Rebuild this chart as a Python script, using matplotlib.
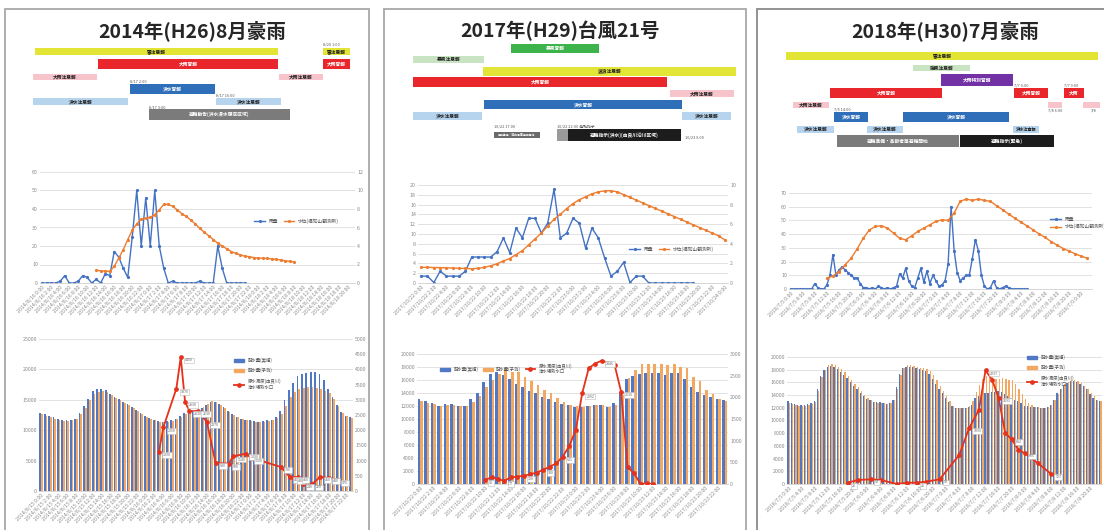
import numpy as np
import pandas as pd
import matplotlib
matplotlib.use("Agg")
import matplotlib.pyplot as plt
import matplotlib.patches as mpatches
from matplotlib.lines import Line2D
from matplotlib.colors import to_rgb

plt.rcParams['font.family'] = ['Noto Sans CJK JP', 'DejaVu Sans']

# ------------------------------------------------------------------ data
titles = ['2014年(H26)8月豪雨', '2017年(H29)台風21号', '2018年(H30)7月豪雨']

# ---- Gantt (warnings / advisories), x in % of the period
g1_row = [0, 0, 1, 1, 2, 2, 3, 4, 4, 5]
g1_start = [1.5, 90.2, 20.9, 90.2, 0.9, 76.6, 30.8, 0.9, 57.2, 36.6]
g1_end = [76.3, 98.5, 76.3, 98.5, 20.6, 90.2, 56.9, 30.2, 77.2, 80.0]
g1_label = ['雷注意報', '雷注意報', '大雨警報', '大雨警報', '大雨注意報', '大雨注意報',
            '洪水警報', '洪水注意報', '洪水注意報', '避難勧告(洪水浸水想定区域)']
g1_note_row = [-0.55, 2.4, 3.45, 4.4]
g1_note_x = [90.2, 30.8, 57.2, 36.6]
g1_note = ['8/20 1:00', '8/17 2:00', '8/17 16:00', '8/17 3:00']

g2_row = [0, 1, 2, 3, 4, 5, 6, 6, 7.7, 7.7, 7.7]
g2_start = [31.6, 2.4, 23.3, 2.4, 79.1, 23.6, 2.4, 82.7, 26.6, 45.4, 48.7]
g2_end = [57.9, 23.6, 98.8, 78.2, 98.2, 82.7, 23.0, 97.3, 40.3, 48.7, 82.4]
g2_label = ['暴風警報', '暴風注意報', '波浪注意報', '大雨警報', '大雨注意報', '洪水警報',
            '洪水注意報', '洪水注意報', '避難準備・高齢者等避難開始', '',
            '避難指示(洪水)(由良川沿川区域)']
g2_note_row = [6.95, 6.95, 7.9]
g2_note_x = [26.6, 45.4, 83.5]
g2_note = ['10/22 17:00', '10/22 22:00 避難指示', '10/23 9:00']

g3_row = [0, 1, 2, 3, 3, 3, 4, 4, 4, 5, 5, 6, 6, 6, 7, 7]
g3_start = [1.9, 41.0, 49.7, 15.4, 72.2, 87.7, 4.0, 82.7, 93.5, 16.7, 38.0, 5.2, 26.9, 71.9, 17.6, 55.6]
g3_end = [98.1, 58.6, 71.9, 50.0, 82.7, 93.8, 15.1, 87.0, 98.8, 27.2, 70.7, 16.7, 38.0, 79.9, 55.2, 84.6]
g3_label = ['雷注意報', '強風注意報', '大雨特別警報', '大雨警報', '大雨警報', '大雨', '大雨注意報',
            '', '', '洪水警報', '洪水警報', '洪水注意報', '洪水注意報', '洪水注意報',
            '避難準備・高齢者等避難開始', '避難指示(緊急)']
g3_note_row = [4.4, 2.4, 2.4, 4.45, 4.45]
g3_note_x = [16.7, 72.2, 87.7, 82.7, 96.0]
g3_note = ['7/5 14:00', '7/7 0:00', '7/7 9:00', '7/8 6:00', '7/8']

# ---- rainfall (mm) and river level (m)
p1_rain = [0, 0, 0, 0, 1, 4, 0, 0, 1, 4, 3, 0, 2, 0, 5, 4, 17, 14, 8, 3, 25, 50, 20, 46, 20, 50,
           20, 8, 0, 1, 0, 0, 0, 0, 0, 1, 0, 0, 0, 20, 8, 0, 0, 0, 0, 0]
p1_level_idx = list(range(12, 57))
p1_level = [1.4, 1.3, 1.3, 1.25, 1.8, 2.7, 3.6, 4.7, 5.7, 6.4, 6.9, 7.0, 7.1, 7.4, 7.9, 8.5, 8.5,
            8.3, 7.9, 7.5, 7.2, 6.8, 6.4, 5.9, 5.5, 5.1, 4.7, 4.3, 4.0, 3.7, 3.4, 3.2, 3.05, 2.9,
            2.85, 2.75, 2.7, 2.68, 2.65, 2.6, 2.55, 2.5, 2.4, 2.35, 2.25]

p2_rain = [1.4, 1.4, 0.1, 2.4, 1.4, 1.4, 1.4, 2.4, 5.3, 5.3, 5.3, 5.3, 6.4, 9.2, 6.2, 11.2, 9.2,
           13.2, 13.2, 10.2, 12.2, 19.1, 9.2, 10.2, 13.2, 12.2, 7.1, 11.2, 9.2, 5.1, 1.4, 2.4,
           4.2, 0.1, 1.4, 1.4, 0, 0, 0, 0, 0, 0, 0, 0]
p2_level_idx = list(range(0, 49))
p2_level = [1.6, 1.6, 1.58, 1.57, 1.55, 1.53, 1.5, 1.48, 1.46, 1.5, 1.6, 1.75, 1.97, 2.25, 2.5,
            2.9, 3.3, 3.9, 4.5, 5.1, 5.8, 6.5, 7.0, 7.6, 8.1, 8.5, 8.8, 9.1, 9.3, 9.4, 9.42, 9.3,
            9.02, 8.74, 8.46, 8.18, 7.9, 7.62, 7.34, 7.06, 6.78, 6.5, 6.22, 5.94, 5.66, 5.38,
            5.1, 4.82, 4.4]

p3_rain = [0, 0, 0, 0, 0, 0, 0, 0, 4, 1, 0, 0, 3, 10, 25, 10, 14, 16, 14, 12, 10, 8, 8, 4, 1, 1,
           0, 1, 0, 2, 1, 0, 1, 0, 1, 2, 11, 8, 15, 6, 2, 1, 8, 15, 5, 13, 4, 10, 6, 2, 3, 6, 18,
           60, 28, 12, 6, 8, 10, 10, 22, 36, 28, 10, 2, 0, 1, 6, 1, 0, 1, 2, 1, 0, 0, 0, 0, 0, 0]
p3_level_idx = list(range(12, 100, 2))
p3_level = [7.8, 9.5, 12.7, 17.6, 22.4, 29.3, 37, 43, 45.6, 46.1, 44.4, 40.7, 37, 35.9, 38.8, 42,
            44.4, 46.8, 49.3, 50.5, 50, 55.4, 63.9, 65.6, 64.6, 65.6, 64.6, 63.9, 60.7, 57.8,
            54.6, 51.7, 48.8, 46.1, 43.2, 40.2, 37.6, 34.6, 32, 29.5, 27.6, 25.6, 23.9, 22.4]

# ---- distribution volume (actual / forecast) and raw-water turbidity
p1_actual = [12900, 12600, 12400, 12100, 11800, 11600, 11650, 11700, 11900, 12800,
             13900, 15200, 16400, 16700, 16700, 16600, 16000, 15500, 15100, 14700,
             14300, 13800, 13300, 12800, 12300, 12000, 11700, 11500, 11400, 11500,
             11700, 11900, 12400, 12900, 13100, 13200, 13400, 13700, 14100, 14600,
             14700, 14300, 13800, 13200, 12700, 12200, 11900, 11700, 11600, 11500,
             11400, 11500, 11600, 11700, 12200, 13100, 14900, 16600, 17800, 18900,
             19300, 19400, 19500, 19500, 19300, 18300, 16700, 15400, 14200, 13000,
             12400, 12100]
p1_forecast = [12600, 12300, 12100, 11800, 11600, 11500, 11500, 11600, 11800, 12600,
               13700, 15000, 16000, 16300, 16400, 16300, 15800, 15300, 14900, 14500,
               14100, 13600, 13100, 12600, 12100, 11800, 11600, 11400, 11300, 11400,
               11500, 11800, 12200, 12700, 13000, 13100, 13300, 13800, 14300, 14800,
               14700, 14200, 13600, 13000, 12500, 12100, 11800, 11600, 11500, 11400,
               11300, 11400, 11500, 11600, 12000, 12600, 14000, 15400, 16300, 16800,
               17000, 17100, 17100, 17000, 16700, 16400, 16200, 15200, 14000, 12900,
               12300, 12000]
p1_turb_idx = [27, 28, 31, 32, 33, 34, 36, 38, 40, 43, 44, 47, 48, 55, 57, 58, 59, 60, 62, 64, 66, 68]
p1_turb = [1290, 2090, 3370, 4400, 2930, 2630, 2630, 2270, 920, 900, 1140, 1230, 1100, 790,
           460, 430, 460, 240, 220, 460, 430, 370]

p2_actual = [13020, 12770, 12510, 12000, 12260, 12260, 12000, 12000, 13020, 14050,
             15740, 16870, 17180, 16770, 16100, 15330, 14870, 14360, 13950, 13330,
             13020, 12620, 12360, 12150, 11900, 11900, 12050, 12150, 12200, 11900,
             12510, 14200, 16100, 16600, 16900, 17030, 17030, 17130, 16770, 17030,
             17030, 16100, 14970, 14200, 13690, 13330, 13020, 12920]
p2_forecast = [12700, 12400, 12300, 12000, 12200, 12200, 12000, 12000, 12600, 13500,
               15000, 16000, 16900, 17700, 17300, 17200, 16400, 15800, 15300, 14500,
               14000, 13300, 12600, 12200, 12000, 11900, 12000, 12100, 12200, 11900,
               12200, 13700, 16300, 17500, 18400, 18500, 18400, 18400, 18300, 18400,
               18000, 17900, 16400, 15800, 14500, 13800, 13100, 12800]
p2_turb_idx = list(range(10, 37))
p2_turb = [92, 154, 108, 77, 154, 170, 190, 230, 262, 330, 400, 477, 631, 877, 1246, 2092,
           2670, 2780, 2846, 2800, 2746, 2130, 400, 246, 0, 15, 0]

p3_actual = [13000, 12800, 12650, 12500, 12450, 12500, 12580, 12800, 13100, 15000,
             17000, 18000, 18500, 18600, 18400, 18100, 17700, 17200, 16700, 16100,
             15500, 14900, 14300, 13800, 13400, 13150, 12900, 12850, 12850, 12750,
             12650, 12700, 13300, 15300, 17300, 18200, 18500, 18500, 18450, 18300,
             18150, 18000, 17800, 17300, 16500, 15800, 15000, 14300, 13600, 12900,
             12250, 12000, 11950, 11950, 11950, 12100, 12500, 13500, 13900, 14200,
             14300, 14400, 14450, 14550, 14600, 14450, 14200, 13900, 13500, 13200,
             13000, 12700, 12350, 12250, 12200, 12100, 12050, 11950, 11950, 12100,
             12450, 13300, 14300, 15000, 15600, 15900, 16150, 16200, 16100, 15800,
             15400, 14900, 14100, 13600, 13200, 13000]
p3_forecast = [12800, 12600, 12450, 12300, 12250, 12300, 12400, 12600, 12900, 14600,
               16800, 18000, 18700, 18900, 18800, 18500, 18100, 17600, 17000, 16400,
               15800, 15200, 14600, 14000, 13500, 13200, 12900, 12800, 12800, 12700,
               12600, 12700, 13200, 15000, 17200, 18300, 18700, 18700, 18600, 18400,
               18300, 18200, 18100, 17800, 17200, 16400, 15400, 14600, 13800, 13000,
               12300, 12000, 11950, 11950, 12000, 12300, 13000, 14500, 15600, 16600,
               17000, 16900, 16800, 16600, 16500, 16700, 16600, 16400, 16300, 15800,
               15000, 14200, 13400, 12800, 12400, 12200, 12050, 11950, 11950, 12050,
               12400, 13200, 14200, 15000, 15700, 16100, 16300, 16350, 16200, 15900,
               15500, 15000, 14300, 13800, 13300, 13000]
p3_turb_idx = [18, 21, 25, 28, 33, 36, 39, 42, 46, 52, 55, 58, 60, 62, 64, 66, 68, 70, 72, 76, 80]
p3_turb = [26, 79, 92, 79, 0, 26, 26, 46, 92, 572, 1099, 1461, 2237, 2053, 1691, 1000, 882,
           671, 605, 408, 197]

series_names = ['雨量', '水位(福知山観測所)']
bar_names = ['配水量(実績)', '配水量(予測)', '原水濁度(由良川)\n浄水場取水口']


def date_labels(start, n):
    return [f"{d.year}/{d.month}/{d.day} {d.hour}:{d.minute:02d}"
            for d in pd.date_range(start, periods=n, freq='h')]


p1_mid_cats = date_labels('2014-08-16 00:00', 70)
p1_bot_cats = date_labels('2014-08-15 00:00', 72)
p2_mid_cats = date_labels('2017-10-22 00:00', 49)
p2_bot_cats = date_labels('2017-10-22 00:00', 48)
p3_mid_cats = date_labels('2018-07-05 00:00', 100)
p3_bot_cats = date_labels('2018-07-05 00:00', 96)

# ------------------------------------------------------------------ styles
C_YEL, C_RED, C_PINK = '#e3e536', '#e8262b', '#f7c4cb'
C_BLU, C_LBLU, C_GRY, C_BLK = '#2f6eb9', '#b6d4ee', '#7b7b7b', '#1c1c1c'
C_GRN, C_LGRN, C_PUR, C_GRY2 = '#3cb44b', '#c8e4c2', '#7232a6', '#9a9a9a'
g1_color = [C_YEL, C_YEL, C_RED, C_RED, C_PINK, C_PINK, C_BLU, C_LBLU, C_LBLU, C_GRY]
g1_h = [0.55, 0.55, 0.8, 0.8, 0.48, 0.48, 0.8, 0.55, 0.55, 0.87]
g2_color = [C_GRN, C_LGRN, C_YEL, C_RED, C_PINK, C_BLU, C_LBLU, C_LBLU, '#6a6a6a', C_GRY2, C_BLK]
g2_h = [0.8, 0.62, 0.8, 0.88, 0.62, 0.8, 0.7, 0.7, 0.53, 1.06, 1.06]
g3_color = [C_YEL, C_LGRN, C_PUR, C_RED, C_RED, C_RED, C_PINK, C_PINK, C_PINK, C_BLU, C_BLU,
            C_LBLU, C_LBLU, C_LBLU, C_GRY, C_BLK]
g3_h = [0.66, 0.49, 0.98, 0.82, 0.82, 0.82, 0.49, 0.49, 0.49, 0.82, 0.82, 0.57, 0.57, 0.57, 0.98, 0.98]

XL_BLUE, XL_ORANGE, RED = '#4472c4', '#ed7d31', '#e5321c'
BAR_BLUE, BAR_ORANGE = '#5078c4', '#f3a862'
TICK_C = '#8a8a8a'

W, H = 1104, 530
fig = plt.figure(figsize=(W / 100, H / 100), dpi=100)
fig.patch.set_facecolor('white')


def px_axes(x0, y0, x1, y1):
    return fig.add_axes([x0 / W, 1 - y1 / H, (x1 - x0) / W, (y1 - y0) / H])


# panel frames
for (x0, x1, ec) in [(5, 369, '#a8a8a8'), (384, 746, '#a8a8a8'), (757, 1120, '#8a8a8a')]:
    fig.add_artist(mpatches.Rectangle((x0 / W, -0.05), (x1 - x0) / W, 1 - 9 / H + 0.05,
                                      transform=fig.transFigure, fill=False, ec=ec, lw=1.3))

for t, cx in zip(titles, [192, 560, 945]):
    fig.text(cx / W, 1 - 31 / H, t, ha='center', va='center', fontsize=14,
             fontweight='bold', color='#262626')


def txt_color(c):
    r, g, b = to_rgb(c)
    return 'white' if 0.299 * r + 0.587 * g + 0.114 * b < 0.55 else '#222222'


def gantt(box, ylim, rows, starts, ends, colors, heights, labels, nrow, nx, notes):
    ax = px_axes(*box)
    wpx = box[2] - box[0]
    s = np.array(starts)
    e = np.array(ends)
    ax.barh(rows, e - s, left=s, height=heights, color=colors, lw=0)
    for r, a, b, c, l in zip(rows, s, e, colors, labels):
        if not l:
            continue
        width_px = (b - a) / 100 * wpx
        fs = min(3.4, 0.8 * width_px / (1.39 * len(l)))
        ax.text((a + b) / 2, r, l, ha='center', va='center', fontsize=fs,
                color=txt_color(c), fontweight='bold')
    for r, x, t in zip(nrow, nx, notes):
        ax.text(x, r, t, ha='left', va='center', fontsize=2.8, color='#555555')
    ax.set_xlim(0, 100)
    ax.set_ylim(*ylim)
    ax.axis('off')


gantt((30, 44, 355, 122), (5.59, -0.6), g1_row, g1_start, g1_end, g1_color, g1_h, g1_label,
      g1_note_row, g1_note_x, g1_note)
gantt((405, 43, 740, 143), (8.37, -0.49), g2_row, g2_start, g2_end, g2_color, g2_h, g2_label,
      g2_note_row, g2_note_x, g2_note)
gantt((780, 50, 1104, 148), (7.54, -0.49), g3_row, g3_start, g3_end, g3_color, g3_h, g3_label,
      g3_note_row, g3_note_x, g3_note)


def base_style(ax):
    for s in ['top', 'right', 'left']:
        ax.spines[s].set_visible(False)
    ax.spines['bottom'].set_color('#d0d0d0')
    ax.spines['bottom'].set_linewidth(0.6)
    ax.tick_params(length=0, labelsize=3.8, colors=TICK_C, pad=1.5)
    ax.yaxis.grid(True, color='#dddddd', lw=0.6)
    ax.set_axisbelow(True)


def twin_style(ax):
    for s in ax.spines.values():
        s.set_visible(False)
    ax.tick_params(length=0, labelsize=3.8, colors=TICK_C, pad=1.5)


def set_cats(ax, cats, step):
    n = len(cats)
    ax.set_xlim(-0.5, n - 0.5)
    ax.set_xticks(range(0, n, step))
    ax.set_xticklabels(cats[::step], rotation=45, ha='right', rotation_mode='anchor',
                       fontsize=3.8, color=TICK_C)


def line_chart(box, cats, step, rain, level_idx, level, ylim_l, st_l, ylim_r, st_r,
               leg_xy, leg_ncol, twin=True):
    ax = px_axes(*box)
    base_style(ax)
    set_cats(ax, cats, step)
    ax.set_ylim(*ylim_l)
    ax.set_yticks(np.arange(ylim_l[0], ylim_l[1] + st_l / 2, st_l))
    h1, = ax.plot(range(len(rain)), rain, color=XL_BLUE, lw=1.0, marker='o', ms=1.3)
    if twin:
        ax2 = ax.twinx()
        twin_style(ax2)
        ax2.set_ylim(*ylim_r)
        ax2.set_yticks(np.arange(ylim_r[0], ylim_r[1] + st_r / 2, st_r))
    else:
        ax2 = ax
    h2, = ax2.plot(level_idx, level, color=XL_ORANGE, lw=1.0, marker='o', ms=1.3)
    ax.legend([h1, h2], series_names, loc='center left',
              bbox_to_anchor=(leg_xy[0] / W, 1 - leg_xy[1] / H),
              bbox_transform=fig.transFigure, ncol=leg_ncol, fontsize=3.4, frameon=False,
              handlelength=2.2, columnspacing=1.2, labelcolor='#555555', borderpad=0)


line_chart((40, 172, 355, 283), p1_mid_cats, 2, p1_rain, p1_level_idx, p1_level,
           (0, 60), 10, (0, 12), 2, (252, 221), 2)
line_chart((418, 185, 728, 283), p2_mid_cats, 2, p2_rain, p2_level_idx, p2_level,
           (0, 20), 2, (0, 10), 2, (627, 249), 2)
line_chart((789, 193, 1092, 289), p3_mid_cats, 4, p3_rain, p3_level_idx, p3_level,
           (0, 70), 10, None, None, (1048, 223), 1, twin=False)


def bar_chart(box, cats, step, actual, forecast, t_idx, turb, ylim_l, st_l, ylim_r, st_r,
              leg_xy, leg_ncol, show_right=True, label_every=1):
    ax = px_axes(*box)
    base_style(ax)
    set_cats(ax, cats, step)
    x = np.arange(len(actual))
    ax.bar(x - 0.2, actual, width=0.4, color=BAR_BLUE, lw=0)
    ax.bar(x + 0.2, forecast, width=0.4, color=BAR_ORANGE, lw=0)
    ax.set_ylim(*ylim_l)
    ax.set_yticks(np.arange(ylim_l[0], ylim_l[1] + st_l / 2, st_l))
    ax2 = ax.twinx()
    twin_style(ax2)
    ax2.set_ylim(*ylim_r)
    ax2.set_yticks(np.arange(ylim_r[0], ylim_r[1] + st_r / 2, st_r))
    if not show_right:
        ax2.set_yticklabels([])
    ax2.plot(t_idx, turb, color=RED, lw=1.3, marker='o', ms=2.4)
    for k, (xi, v) in enumerate(zip(t_idx, turb)):
        if k % label_every == 0 and v > 0:
            ax2.annotate(str(v), (xi, v), xytext=(3, -3), textcoords='offset points',
                         fontsize=2.6, color='#666666',
                         bbox=dict(boxstyle='square,pad=0.25', fc='white', ec='#bbbbbb', lw=0.4))
    handles = [mpatches.Patch(color=BAR_BLUE), mpatches.Patch(color=BAR_ORANGE),
               Line2D([], [], color=RED, lw=1.3, marker='o', ms=2.4)]
    ax2.legend(handles, bar_names, loc='upper left',
               bbox_to_anchor=(leg_xy[0] / W, 1 - leg_xy[1] / H),
               bbox_transform=fig.transFigure, ncol=leg_ncol, fontsize=3.2, frameon=False,
               handlelength=2.2, handleheight=0.7, labelcolor='#555555', borderpad=0,
               columnspacing=1.0, labelspacing=1.2)


bar_chart((39, 339, 353, 491), p1_bot_cats, 2, p1_actual, p1_forecast, p1_turb_idx, p1_turb,
          (0, 25000), 5000, (0, 5000), 500, (232, 355), 1)
bar_chart((417, 354, 728, 484), p2_bot_cats, 2, p2_actual, p2_forecast, p2_turb_idx, p2_turb,
          (0, 20000), 2000, (0, 3000), 500, (438, 361), 3, label_every=3)
bar_chart((787, 357, 1102, 484), p3_bot_cats, 4, p3_actual, p3_forecast, p3_turb_idx, p3_turb,
          (0, 20000), 2000, (0, 2500), 250, (1025, 352), 1, show_right=False, label_every=2)

fig.savefig('out.png', dpi=100, facecolor='white')
